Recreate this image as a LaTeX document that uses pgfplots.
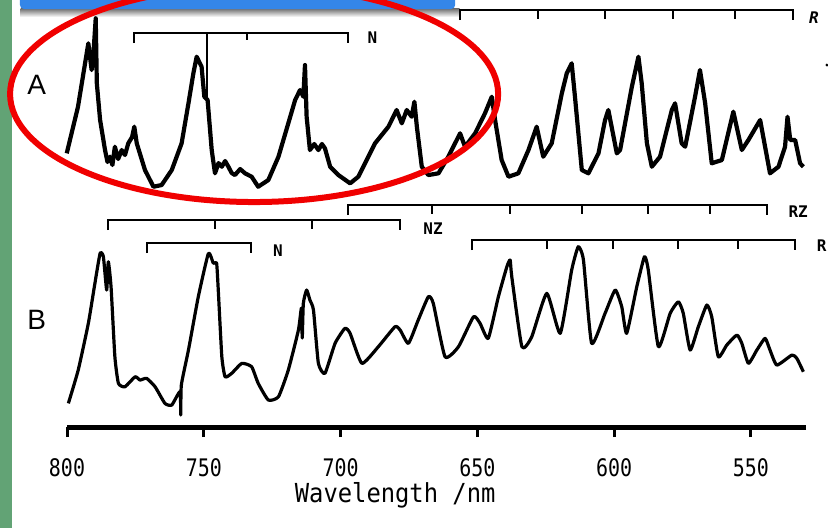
\documentclass[border=0pt]{standalone}
\usepackage{graphicx}
\usepackage{pgfplots}
\pgfplotsset{compat=1.18}
\usepackage{fontspec}
\newfontfamily\monofont{DejaVu Sans Mono}
\newfontfamily\letterfont{Liberation Sans}
\definecolor{slidegreen}{RGB}{98,163,117}
\definecolor{slideblue}{RGB}{52,134,232}
\definecolor{ringred}{RGB}{240,0,0}
\newcommand\tk[1]{\scalebox{0.95}[1.15]{\monofont\fontsize{10.5pt}{12pt}\selectfont #1}}
\newcommand\lbl[1]{{\monofont\bfseries\fontsize{8pt}{9pt}\selectfont #1}}

\begin{document}
\begin{tikzpicture}
\begin{axis}[
    scale only axis,
    width=369.5pt, height=213.5pt,
    xmin=529.8, xmax=800, ymin=0, ymax=427,
    x dir=reverse,
    axis x line*=bottom, axis y line=none,
    x axis line style={line width=2.5pt, -},
    xtick={800,750,700,650,600,550},
    xticklabels={\tk{800},\tk{750},\tk{700},\tk{650},\tk{600},\tk{550}},
    tick align=outside, major tick length=5pt,
    every tick/.style={black, line width=1.5pt},
    xticklabel style={anchor=center, yshift=-15.5pt},
    xlabel={\scalebox{1}[1.1]{\monofont\fontsize{11.9pt}{13pt}\selectfont Wavelength /nm}},
    xlabel style={at={(axis description cs:0.444,-0.159)}, anchor=center},
    clip=false,
]
% slide decorations
\fill[slidegreen] (axis cs:824.7,-101) rectangle (axis cs:820.1,428);
\shade[top color=black!60, bottom color=white] (axis cs:817.0,419) rectangle (axis cs:656.5,410);
\fill[slideblue, rounded corners=2pt] (axis cs:817.2,418) rectangle (axis cs:658.1,440);

% spectrum A
\addplot[black, line width=2.1pt, line join=round] coordinates {
(800.1,273.7) (796,320) (792.8,373.7) (792.2,383.7) (791.0,357) (790.3,375)
(789.5,408.7) (789.1,343.7) (787.9,307) (786.1,277) (785.2,265) (784.3,270.3)
(783.4,262) (782.5,280.3) (781.3,268) (780.0,277) (778.8,272) (777.6,283.7)
(776.2,290) (775.4,300.3) (774.5,283.7) (771.5,257) (768.4,240.3) (765.4,242)
(761.7,257) (758.1,283.7) (755.6,323.7) (753.8,353.7) (752.6,370.3) (750.8,360.3)
(749.8,330.3) (748.6,327) (748.3,317) (747.1,277) (745.9,253.7) (744.6,264)
(743.4,260.3) (742.2,266) (741.0,260.3) (739.8,254) (738.6,252) (736.7,258)
(734.9,253.7) (732.5,250.3) (730.1,240.3) (726.4,247) (722.7,270.3) (719.1,303.7)
(716.6,327) (714.8,337) (713.6,330.3) (713.0,362) (712.4,310.3) (711.2,277)
(709.6,283) (708.1,277) (706.8,283) (705.7,278.7) (703.8,260.3) (700.8,252)
(696.5,243.7) (693.5,250.3) (687.4,283.7) (682.5,300.3) (679.5,317) (677.6,303.7)
(675.8,317) (674.0,310.3) (673.0,325.3) (672.1,300.3) (670.3,260.3) (667.9,252)
(664.2,253.7) (660.6,270.3) (656.3,293.7) (654.5,280.3) (650.8,293.7) (647.2,313.7)
(644.7,330.3) (643.5,307) (641.1,267) (638.6,250.3) (635.0,253.7) (631.3,277)
(628.3,300.3) (625.9,270.3) (622.8,283.7) (619.1,333.7) (617.3,353.7) (615.5,363.7)
(614.3,330.3) (611.8,257) (609.4,253.7) (605.7,273.7) (603.3,307) (602.1,317)
(599.0,273.7) (597.8,277) (593.5,340.3) (591.1,370.3) (589.9,343.7) (588.0,283.7)
(586.2,260.3) (583.2,270.3) (578.9,317) (577.7,323.7) (575.3,283.7) (574.0,280.3)
(570.4,330.3) (568.6,357) (566.7,323.7) (564.3,263.7) (560.6,267) (556.4,315.3)
(553.3,277) (550.9,287) (546.6,307) (543.0,253.7) (539.9,260.3) (537.5,280.3)
(536.6,310.3) (535.6,287) (533.8,287) (532.0,263.7) (530.8,260.3)
};

% spectrum B
\addplot[black, line width=1.6pt, line join=round, smooth, tension=0.3] coordinates {
(799.5,23.7) (795.9,57) (792.2,103.7) (789.8,143.7) (787.9,173.7) (786.7,170.3)
(785.5,137) (784.9,165.3) (783.9,140.3) (782.5,70.3) (781.2,43.7) (778.8,40.3)
(775.1,50.3) (773.3,47) (770.9,48.7) (767.8,40.3) (764.2,23.7) (761.7,22)
(758.7,35.3) (758.4,12) (758.2,42) (755.6,77) (752.0,130.3) (748.3,173.7)
(746.5,163.7) (745.3,163.7) (744.7,137) (743.4,70.3) (742.2,50.3) (739.8,53.7)
(736.1,63.7) (732.5,60.3) (730.1,43.7) (726.4,27) (722.7,30.3) (719.1,57)
(715.4,97) (714.3,119) (714.0,89) (713.6,123.7) (712.4,137) (711.2,127)
(709.9,117) (708.1,63.7) (705.7,53.7) (702.0,83.7) (698.4,98.7) (696.5,93.7)
(692.2,63.7) (686.2,80.3) (680.1,100.3) (678.2,97) (675.2,83.7) (671.6,107)
(667.9,130.3) (666.1,123.7) (661.8,70.3) (656.9,80.3) (651.4,110.3) (649.0,103.7)
(646.0,88.7) (642.3,130.3) (639.2,160.3) (638.0,167) (637.4,150.3) (633.7,80.3)
(630.1,90.3) (624.6,133.7) (619.7,93.7) (615.5,157) (613.1,180.3) (611.2,167)
(608.2,83.7) (603.3,113.7) (599.6,137) (597.2,120.3) (595.4,93.7) (591.7,140.3)
(588.9,170.3) (587.5,157) (583.8,80.3) (579.5,113.7) (576.5,125.3) (574.7,113.7)
(572.2,77) (569.2,100.3) (566.1,122) (564.3,110.3) (561.9,70.3) (558.8,82)
(555.1,92) (553.3,83.7) (550.9,63.7) (547.8,77) (544.8,88.7) (543.0,77)
(540.5,62) (535.0,72) (533.2,68.7) (530.8,55.3)
};

% assignment brackets
\begin{scope}[line width=1pt]
\draw (axis cs:775.5,384) -- (axis cs:775.5,394) -- (axis cs:697.3,394) -- (axis cs:697.3,384);
\draw (axis cs:748.8,394) -- (axis cs:748.8,330);
\draw (axis cs:734.2,394) -- (axis cs:734.2,387);
\draw (axis cs:656.3,407) -- (axis cs:656.3,417) -- (axis cs:534.6,417) -- (axis cs:534.6,407);
\pgfplotsinvokeforeach{627.8,603.3,578.4,555.8}{\draw (axis cs:#1,417) -- (axis cs:#1,408);}
\draw (axis cs:697.3,212) -- (axis cs:697.3,222) -- (axis cs:544.1,222) -- (axis cs:544.1,212);
\pgfplotsinvokeforeach{666.5,638.0,611.7,587.6,564.9}{\draw (axis cs:#1,222) -- (axis cs:#1,213);}
\draw (axis cs:785.0,197) -- (axis cs:785.0,207) -- (axis cs:678.3,207) -- (axis cs:678.3,197);
\pgfplotsinvokeforeach{745.9,710.4}{\draw (axis cs:#1,207) -- (axis cs:#1,198);}
\draw (axis cs:770.9,174) -- (axis cs:770.9,184) -- (axis cs:732.8,184) -- (axis cs:732.8,174);
\draw (axis cs:652.0,177) -- (axis cs:652.0,187) -- (axis cs:533.8,187) -- (axis cs:533.8,177);
\pgfplotsinvokeforeach{624.6,600.4,576.6,554.7}{\draw (axis cs:#1,187) -- (axis cs:#1,178);}
\end{scope}

\node at (axis cs:811.1,342) {\letterfont\fontsize{14pt}{16pt}\selectfont A};
\node at (axis cs:811.1,107) {\letterfont\fontsize{14pt}{16pt}\selectfont B};
\node at (axis cs:688.3,389) {\lbl{N}};
\node at (axis cs:526.9,409.5) {\lbl{\itshape R}};
\node at (axis cs:666.2,198) {\lbl{NZ}};
\node at (axis cs:532.7,215.5) {\lbl{RZ}};
\node at (axis cs:722.9,176) {\lbl{N}};
\node at (axis cs:524.1,181) {\lbl{R}};
\fill (axis cs:522.2,362) circle (0.8pt);

% highlight ring
\draw[ringred, line width=3pt] (axis cs:731.6,333) ellipse [x radius=122pt, y radius=54pt];

\coordinate (bbl) at (axis cs:824.5,-100);
\coordinate (btr) at (axis cs:521.8,427);
\end{axis}
\pgfresetboundingbox
\useasboundingbox (bbl) rectangle (btr);
\end{tikzpicture}
\end{document}
